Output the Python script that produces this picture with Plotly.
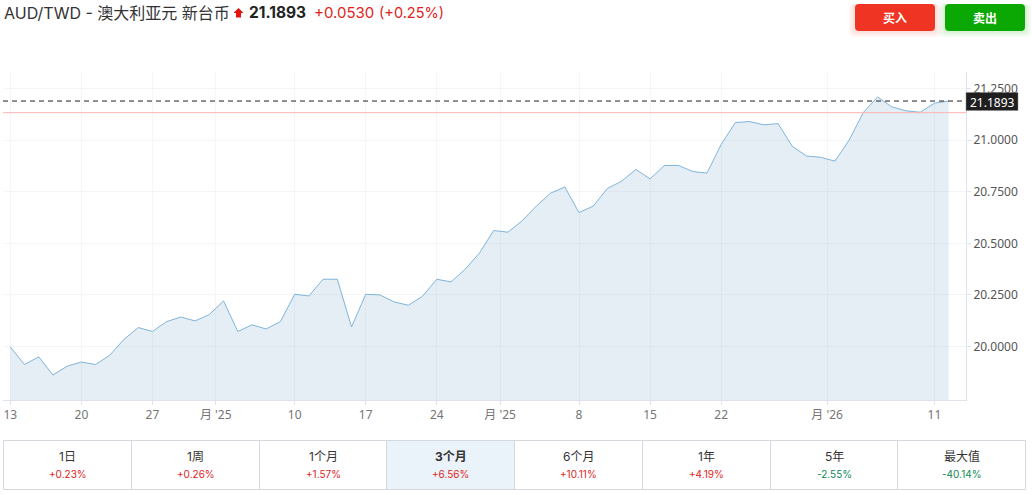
import plotly.graph_objects as go

W, H = 1032, 495

# closing prices, one per trading day
prices = [19.998, 19.913, 19.950, 19.862, 19.905, 19.925, 19.913, 19.958, 20.035, 20.092,
          20.073, 20.121, 20.143, 20.124, 20.155, 20.221, 20.073, 20.105, 20.085, 20.121,
          20.253, 20.245, 20.326, 20.326, 20.095, 20.253, 20.250, 20.216, 20.200, 20.244,
          20.326, 20.313, 20.375, 20.453, 20.562, 20.554, 20.609, 20.680, 20.743, 20.773,
          20.649, 20.680, 20.766, 20.801, 20.858, 20.812, 20.877, 20.877, 20.848, 20.840,
          20.979, 21.085, 21.090, 21.074, 21.080, 20.970, 20.923, 20.917, 20.898, 21.000,
          21.134, 21.209, 21.161, 21.142, 21.135, 21.179, 21.1893]
days = list(range(len(prices)))

x_tickvals = [0, 5, 10, 14.45, 20, 25, 30, 34.45, 40, 45, 50, 57.45, 65]
x_ticktext = ['13', '20', '27', "月 '25", '10', '17', '24', "月 '25", '8', '15', '22', "月 '26", '11']
y_tickvals = [20.0, 20.25, 20.5, 20.75, 21.0, 21.25]
y_ticktext = ['20.0000', '20.2500', '20.5000', '20.7500', '21.0000', '21.2500']

last_price = 21.1893
prev_close = 21.133

periods = ['1日', '1周', '1个月', '3个月', '6个月', '1年', '5年', '最大值']
changes = ['+0.23%', '+0.26%', '+1.57%', '+6.56%', '+10.11%', '+4.19%', '-2.55%', '-40.14%']
tab_edges = [3.5, 131.5, 259.5, 386.5, 514.5, 642.5, 770.5, 897.5, 1025.5]

FONT = 'Inter, "Noto Sans CJK SC", sans-serif'
LABEL_FONT = '"Noto Sans", "Noto Sans CJK SC", sans-serif'
RED = '#e0241b'
GREEN = '#0e8a55'


# page pixels to paper coordinates
def px(x):
    return x / W


def py(y):
    return 1 - y / H


def rounded(x0, y0, x1, y1, r):
    return (f'M {px(x0 + r)} {py(y0)} L {px(x1 - r)} {py(y0)} Q {px(x1)} {py(y0)} {px(x1)} {py(y0 + r)} '
            f'L {px(x1)} {py(y1 - r)} Q {px(x1)} {py(y1)} {px(x1 - r)} {py(y1)} '
            f'L {px(x0 + r)} {py(y1)} Q {px(x0)} {py(y1)} {px(x0)} {py(y1 - r)} '
            f'L {px(x0)} {py(y0 + r)} Q {px(x0)} {py(y0)} {px(x0 + r)} {py(y0)} Z')


def text(x, y, s, size, color, anchor='left', family=FONT):
    return dict(x=px(x), y=py(y), xref='paper', yref='paper', text=s, showarrow=False,
                xanchor=anchor, yanchor='middle', font=dict(size=size, color=color, family=family))


fig = go.Figure(go.Scatter(x=days, y=prices, mode='lines', fill='tozeroy',
                           line=dict(color='#7fb5da', width=1),
                           fillcolor='rgba(125,170,205,0.2)', hoverinfo='skip'))

shapes = []
annotations = []

# reference lines
shapes.append(dict(type='line', xref='paper', yref='y', x0=px(3), x1=px(966), y0=prev_close, y1=prev_close,
                   line=dict(color='#ffb3b3', width=1)))
shapes.append(dict(type='line', xref='paper', yref='y', x0=px(3), x1=px(966), y0=last_price, y1=last_price,
                   line=dict(color='#222222', width=1, dash='5px 4px')))

# last price tag
shapes.append(dict(type='rect', xref='paper', yref='paper', x0=px(966), x1=px(1018), y0=py(92.5), y1=py(110.5),
                   fillcolor='#1f1f1f', line=dict(color='#888888', width=0.5)))
annotations.append(text(992.5, 102, '21.1893', 12, '#ffffff', 'center', LABEL_FONT))

# header
annotations.append(text(1.5, 12.5, 'AUD/TWD - 澳大利亚元 新台币', 16, '#333333'))
annotations.append(text(246.5, 12.5, '<b>21.1893</b>', 15.5, '#222222'))
annotations.append(text(312, 12.5, '+0.0530', 15, RED))
annotations.append(text(377, 12.5, '(+0.25%)', 14.5, RED))
arrow = (f'M {px(238.5)} {py(8)} L {px(243.5)} {py(13)} L {px(241)} {py(13)} L {px(241)} {py(17.5)} '
         f'L {px(236)} {py(17.5)} L {px(236)} {py(13)} L {px(233.5)} {py(13)} Z')
shapes.append(dict(type='path', xref='paper', yref='paper', path=arrow, fillcolor='#e3120b', line=dict(width=0)))

# buy and sell buttons, with a soft glow underneath
for x0, x1, col, glow, label in [(855, 935, '#ef3424', 'rgba(239,52,36,0.05)', '买入'),
                                 (945, 1025, '#0ba702', 'rgba(11,167,2,0.05)', '卖出')]:
    for g in (6, 4, 2):
        shapes.append(dict(type='path', xref='paper', yref='paper', path=rounded(x0 - g, 4, x1 + g, 31 + g, 5),
                           fillcolor=glow, line=dict(width=0)))
    shapes.append(dict(type='path', xref='paper', yref='paper', path=rounded(x0, 4, x1, 31, 4),
                       fillcolor=col, line=dict(width=0)))
    annotations.append(text((x0 + x1) / 2, 18, f'<b>{label}</b>', 12, '#ffffff', 'center'))

# period tabs
shapes.append(dict(type='rect', xref='paper', yref='paper', x0=px(tab_edges[3]), x1=px(tab_edges[4]),
                   y0=py(489.5), y1=py(441), fillcolor='#ebf3fa', line=dict(width=0)))
shapes.append(dict(type='rect', xref='paper', yref='paper', x0=px(tab_edges[0]), x1=px(tab_edges[-1]),
                   y0=py(489.5), y1=py(440.5), line=dict(color='#d5d9dd', width=1)))
for edge in tab_edges[1:-1]:
    shapes.append(dict(type='line', xref='paper', yref='paper', x0=px(edge), x1=px(edge),
                       y0=py(489.5), y1=py(440.5), line=dict(color='#d5d9dd', width=1)))
for i, (name, chg) in enumerate(zip(periods, changes)):
    mid = (tab_edges[i] + tab_edges[i + 1]) / 2
    label = f'<b>{name}</b>' if name == '3个月' else name
    annotations.append(text(mid, 456.5, label, 12, '#333333', 'center'))
    annotations.append(text(mid, 474, chg, 10, GREEN if chg[0] == '-' else RED, 'center'))

fig.update_layout(
    width=W, height=H, margin=dict(l=0, r=0, t=0, b=0), showlegend=False,
    paper_bgcolor='white', plot_bgcolor='white',
    font=dict(family=LABEL_FONT),
    shapes=shapes, annotations=annotations,
    xaxis=dict(domain=[px(3), px(966)], range=[-0.513, 67.22], tickmode='array',
               tickvals=x_tickvals, ticktext=x_ticktext, showgrid=True, gridcolor='#f4f5f7',
               gridwidth=1, zeroline=False, showline=True, linecolor='#e0e3eb', linewidth=1,
               ticks='outside', ticklen=4, tickcolor='#e0e3eb',
               tickfont=dict(size=12, color='#757575', family=LABEL_FONT)),
    yaxis=dict(domain=[py(400), py(72)], range=[19.741, 21.33], side='right', tickmode='array',
               tickvals=y_tickvals, ticktext=y_ticktext, showgrid=True, gridcolor='#f4f5f7',
               gridwidth=1, zeroline=False, showline=True, linecolor='#e0e3eb', linewidth=1,
               ticks='outside', ticklen=4, tickcolor='#e0e3eb',
               tickfont=dict(size=12, color='#555555', family=LABEL_FONT)),
)

fig.write_html("out.html", config=dict(displayModeBar=False),
               post_script="document.body.style.margin='0';")
